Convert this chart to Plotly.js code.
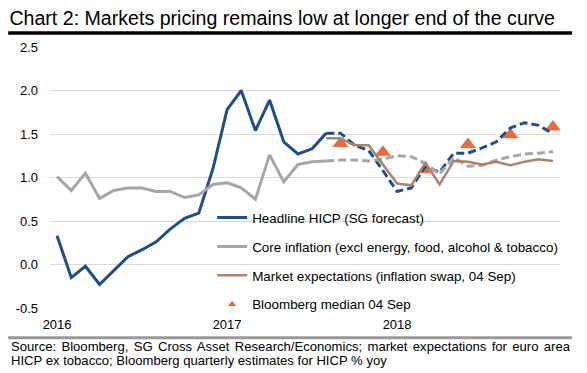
<!DOCTYPE html>
<html>
<head>
<meta charset="utf-8">
<script src="https://cdn.plot.ly/plotly-3.0.1.min.js"></script>
<style>
  html, body { margin: 0; padding: 0; background: #ffffff; }
  #chart { width: 587px; height: 373px; }
</style>
</head>
<body>
<div id="chart"></div>
<script>
// ---- Data ----
const months = [
  'Jan 2016','Feb 2016','Mar 2016','Apr 2016','May 2016','Jun 2016',
  'Jul 2016','Aug 2016','Sep 2016','Oct 2016','Nov 2016','Dec 2016',
  'Jan 2017','Feb 2017','Mar 2017','Apr 2017','May 2017','Jun 2017',
  'Jul 2017','Aug 2017','Sep 2017','Oct 2017','Nov 2017','Dec 2017',
  'Jan 2018','Feb 2018','Mar 2018','Apr 2018','May 2018','Jun 2018',
  'Jul 2018','Aug 2018','Sep 2018','Oct 2018','Nov 2018','Dec 2018'
];
// Jan 2016 - Aug 2017 (outturns)
const headlineActual = [0.33, -0.15, -0.02, -0.23, -0.07, 0.09, 0.17, 0.26, 0.41, 0.53, 0.59, 1.10,
                        1.78, 2.00, 1.54, 1.89, 1.41, 1.27, 1.33, 1.51];
// Aug 2017 - Dec 2018 (SG forecast)
const headlineForecast = [1.51, 1.51, 1.37, 1.31, 1.08, 0.84, 0.88, 1.13, 1.06, 1.28, 1.28, 1.34,
                          1.41, 1.57, 1.63, 1.60, 1.50];
// Jan 2016 - Aug 2017
const coreActual = [1.01, 0.85, 1.05, 0.76, 0.85, 0.88, 0.88, 0.84, 0.84, 0.77, 0.80, 0.92,
                    0.94, 0.88, 0.75, 1.26, 0.95, 1.15, 1.18, 1.19];
// Aug 2017 - Dec 2018
const coreForecast = [1.19, 1.20, 1.20, 1.19, 1.21, 1.25, 1.24, 1.16, 1.04, 1.23, 1.13, 1.14,
                      1.20, 1.24, 1.27, 1.28, 1.30];
// Aug 2017 - Dec 2018 (inflation swap, 04 Sep)
const marketExpectations = [1.45, 1.45, 1.37, 1.37, 1.15, 0.93, 0.91, 1.17, 0.92, 1.19, 1.18, 1.15,
                            1.18, 1.14, 1.18, 1.21, 1.19];
const bloombergMonths = ['Sep 2017','Dec 2017','Mar 2018','Jun 2018','Sep 2018','Dec 2018'];
const bloombergMedian = [1.39, 1.29, 1.09, 1.38, 1.49, 1.58];

const yTickValues = [-0.5, 0, 0.5, 1, 1.5, 2, 2.5];
const yTickLabels = ['-0.5', '0.0', '0.5', '1.0', '1.5', '2.0', '2.5'];
const xTickMonths = ['Jan 2016', 'Jan 2017', 'Jan 2018'];
const xTickLabels = ['2016', '2017', '2018'];

const seriesNames = [
  'Headline HICP (SG forecast)',
  'Core inflation (excl energy, food, alcohol & tobacco)',
  'Market expectations (inflation swap, 04 Sep)',
  'Bloomberg median 04 Sep'
];
const titleText = 'Chart 2: Markets pricing remains low at longer end of the curve';
const sourceLine1 = 'Source: Bloomberg, SG Cross Asset Research/Economics; market expectations for euro area';
const sourceLine2 = 'HICP ex tobacco; Bloomberg quarterly estimates for HICP % yoy';

// ---- Styling ----
const BLUE = '#1f4e8d', GREY = '#a6a6a6', BROWN = '#a9836e', ORANGE = '#ec6a3c';
const FONT = 'Liberation Sans, Arial, Helvetica, sans-serif';
const actualMonths = months.slice(0, headlineActual.length);
const forecastMonths = months.slice(headlineActual.length - 1);

const traces = [
  { type: 'scatter', mode: 'markers', x: bloombergMonths, y: bloombergMedian,
    marker: { symbol: 'triangle-up', size: 14, color: ORANGE },
    showlegend: false, legendgroup: 'g4', hoverinfo: 'x+y' },
  { type: 'scatter', mode: 'lines', x: actualMonths, y: headlineActual, name: seriesNames[0],
    line: { color: BLUE, width: 3 }, legendgroup: 'g1', legendrank: 1 },
  { type: 'scatter', mode: 'lines', x: forecastMonths, y: headlineForecast, name: seriesNames[0],
    line: { color: BLUE, width: 3, dash: '8px,4px' }, legendgroup: 'g1', showlegend: false },
  { type: 'scatter', mode: 'lines', x: actualMonths, y: coreActual, name: seriesNames[1],
    line: { color: GREY, width: 3 }, legendgroup: 'g2', legendrank: 2 },
  { type: 'scatter', mode: 'lines', x: forecastMonths, y: coreForecast, name: seriesNames[1],
    line: { color: GREY, width: 3, dash: '8px,4px' }, legendgroup: 'g2', showlegend: false },
  { type: 'scatter', mode: 'lines', x: forecastMonths, y: marketExpectations, name: seriesNames[2],
    line: { color: BROWN, width: 2.5 }, legendgroup: 'g3', legendrank: 3 },
  // legend entry for the Bloomberg markers (small symbol, as in the original key)
  { type: 'scatter', mode: 'markers', x: [null], y: [null], name: seriesNames[3],
    marker: { symbol: 'triangle-up', size: 7, color: ORANGE }, legendgroup: 'g4', legendrank: 4 }
];

const layout = {
  width: 587, height: 373,
  margin: { l: 50, r: 27, t: 47, b: 65, pad: 0 },
  paper_bgcolor: '#ffffff', plot_bgcolor: 'rgba(0,0,0,0)',
  font: { family: FONT, size: 13, color: '#000000' },
  title: {
    text: titleText,
    font: { family: FONT, size: 19.6, color: '#000000' },
    xref: 'container', x: 0.016, xanchor: 'left',
    yref: 'container', y: 0.951, yanchor: 'middle'
  },
  xaxis: {
    type: 'category', categoryorder: 'array', categoryarray: months,
    range: [-0.5, 35.5],
    tickvals: xTickMonths, ticktext: xTickLabels,
    showgrid: false, zeroline: false, showline: false, ticks: '',
    tickfont: { family: FONT, size: 13, color: '#000000' },
    ticklabelstandoff: 7, fixedrange: true
  },
  xaxis2: {
    type: 'linear', overlaying: 'x', anchor: 'free', position: 1 / 6, side: 'bottom',
    range: [-0.5, 35.5], tickvals: [-0.5, 11.5, 23.5, 35.5],
    showticklabels: false, ticks: 'outside', ticklen: 4, tickcolor: '#8c8c8c', tickwidth: 1,
    showline: true, linecolor: '#8c8c8c', linewidth: 1,
    showgrid: false, zeroline: false, fixedrange: true
  },
  yaxis: {
    range: [-0.5, 2.5], tickvals: yTickValues, ticktext: yTickLabels,
    showgrid: true, gridcolor: '#d9d9d9', gridwidth: 1,
    zeroline: false, showline: false, ticks: '',
    tickfont: { family: FONT, size: 13, color: '#000000' },
    ticklabelstandoff: 11, fixedrange: true
  },
  legend: {
    x: 0.318, xanchor: 'left', y: 0.405, yanchor: 'top',
    bgcolor: 'rgba(0,0,0,0)', borderwidth: 0,
    traceorder: 'grouped', tracegroupgap: 8.5,
    font: { family: FONT, size: 13.4, color: '#000000' }
  },
  shapes: [
    { type: 'line', xref: 'paper', yref: 'paper', x0: -0.082, x1: 1.0235, y0: 1.0536, y1: 1.0536,
      line: { color: '#000000', width: 3.5 } },
    { type: 'line', xref: 'paper', yref: 'paper', x0: -0.082, x1: 1.0235, y0: -0.1137, y1: -0.1137,
      line: { color: '#999999', width: 3 } }
  ],
  annotations: [
    { xref: 'paper', yref: 'paper', x: -0.0804, xanchor: 'left', y: -0.148, yanchor: 'middle',
      align: 'left', showarrow: false,
      font: { family: FONT, size: 13.1, color: '#000000' }, text: sourceLine1 },
    { xref: 'paper', yref: 'paper', x: -0.0804, xanchor: 'left', y: -0.2015, yanchor: 'middle',
      align: 'left', showarrow: false,
      font: { family: FONT, size: 13.1, color: '#000000' }, text: sourceLine2 }
  ]
};

Plotly.newPlot('chart', traces, layout, { displayModeBar: false, staticPlot: true }).then(function () {
  // justify the first source line across the full width, as in the original
  const texts = document.querySelectorAll('.annotation-text');
  if (texts.length) {
    const t = texts[0];
    const w = t.getComputedTextLength();
    const spaces = (sourceLine1.match(/ /g) || []).length;
    const target = 559;
    if (w < target && spaces > 0) {
      t.style.wordSpacing = ((target - w) / spaces).toFixed(2) + 'px';
    }
  }
});
</script>
</body>
</html>
